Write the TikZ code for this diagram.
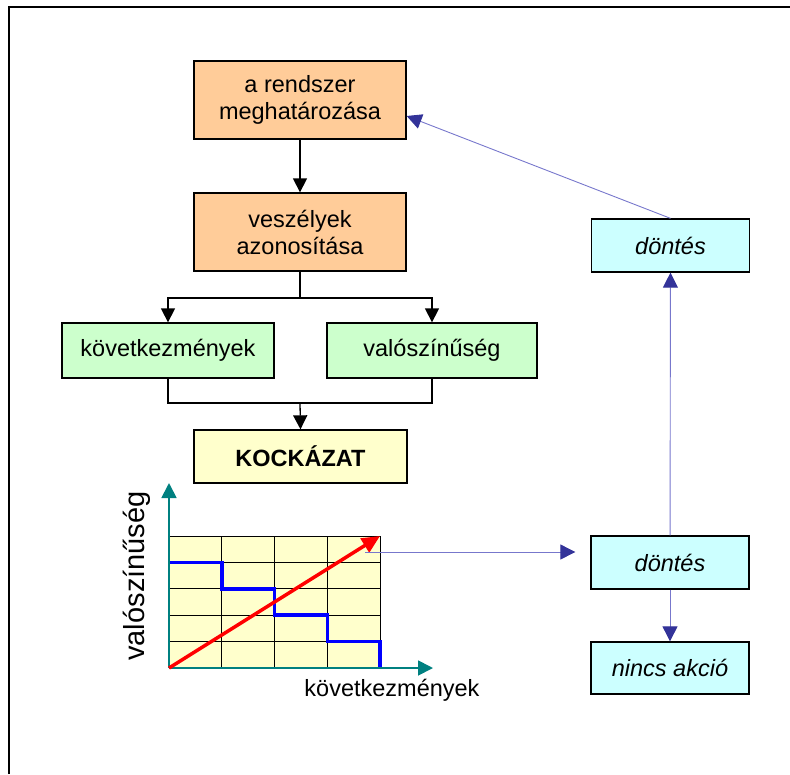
\documentclass[tikz,border=0pt]{standalone}
\usepackage{fontspec}
\setmainfont{Liberation Sans}
\usetikzlibrary{arrows.meta}

\definecolor{orangebox}{HTML}{FFCC99}
\definecolor{greenbox}{HTML}{CCFFCC}
\definecolor{yellowbox}{HTML}{FFFFCC}
\definecolor{cyanbox}{HTML}{CCFFFF}
\definecolor{linkline}{HTML}{7777CC}
\definecolor{linkhead}{HTML}{333399}
\definecolor{axisteal}{HTML}{008080}

\tikzset{
  stepbox/.style={draw=black, line width=1.3pt, align=center, inner sep=0pt,
    font=\fontsize{23.5}{27}\selectfont},
  flow/.style={line width=1.3pt, -{Triangle[length=14pt,width=14pt]}},
  plain/.style={line width=1.3pt},
  link/.style={draw=linkline, line width=0.9pt,
    -{Triangle[length=15pt,width=15pt,color=linkhead]}},
  axis/.style={draw=axisteal, line width=1.8pt,
    -{Triangle[length=15pt,width=15pt,color=axisteal]}},
  lbl/.style={font=\fontsize{23.5}{27}\selectfont, inner sep=0pt}
}

\begin{document}
\begin{tikzpicture}[x=1pt,y=-1pt]
\useasboundingbox (0,0) rectangle (790,774);

% outer frame (left and top edges)
\draw[line width=2pt] (8.5,774) -- (8.5,6.5) -- (790,6.5);

% flowchart boxes
\node[stepbox, fill=orangebox, minimum width=212pt, minimum height=78pt] (sys) at (300,100) {a rendszer\\meghatározása};
\node[stepbox, fill=orangebox, minimum width=212pt, minimum height=78pt] (haz) at (300,232) {veszélyek\\azonosítása};
\node[stepbox, fill=greenbox, minimum width=212pt, minimum height=55pt] (kov) at (168,350.5) {következmények};
\node[stepbox, fill=greenbox, minimum width=210pt, minimum height=55pt] (val) at (432,350.5) {valószínűség};
\node[stepbox, fill=yellowbox, minimum width=213pt, minimum height=53pt, font=\fontsize{23.5}{27}\selectfont\bfseries] (risk) at (300.5,456.5) {KOCKÁZAT};

\node[stepbox, fill=cyanbox, minimum width=158pt, minimum height=53pt, font=\fontsize{23.5}{27}\selectfont\itshape] (d1) at (670.5,245.5) {döntés};
\node[stepbox, fill=cyanbox, minimum width=158pt, minimum height=53pt, font=\fontsize{23.5}{27}\selectfont\itshape] (d2) at (670,562.5) {döntés};
\node[stepbox, fill=cyanbox, minimum width=158pt, minimum height=52pt, font=\fontsize{23.5}{27}\selectfont\itshape] (na) at (670,668) {nincs akció};

% flowchart connectors
\coordinate (split) at (300,298);
\coordinate (merge) at (300,403);
\draw[flow] (sys) -- (haz);
\draw[plain] (haz.south) -- (split);
\draw[flow] (split) -| (kov.north);
\draw[flow] (split) -| (val.north);
\draw[plain] (kov.south) |- (merge);
\draw[plain] (val.south) |- (merge);
\draw[flow] (merge) -- (risk.north);

% risk matrix
\coordinate (origin) at (169,668);
\coordinate (gridtop) at (380,536);
\fill[yellowbox] (origin) rectangle (gridtop);
\foreach \i in {1,2,3,4} {
  \draw[line width=0.8pt] (169+52.75*\i,536) -- (169+52.75*\i,668);
}
\foreach \j in {0,1,2,3,4} {
  \draw[line width=0.8pt] (169,536+26.4*\j) -- (380,536+26.4*\j);
}
\draw[blue, line width=3.5pt, line join=miter]
  (169,562.4) -- (221.75,562.4) -- (221.75,588.8) -- (274.5,588.8) -- (274.5,615.2)
  -- (327.25,615.2) -- (327.25,641.6) -- (380,641.6) -- (380,668);
\draw[axis] (origin) -- (169,483);
\draw[axis] (origin) -- (433,668);
\draw[red, line width=3.5pt, -{Triangle[length=18pt,width=16pt]}] (origin) -- (gridtop);

\node[lbl, rotate=90, font=\fontsize{29}{33}\selectfont] (ylab) at (137,576) {valószínűség};
\node[lbl] (xlab) at (392,690) {következmények};

% decision links
\coordinate (gridout) at (365,552);
\draw[link, shorten >=15pt] (gridout) -- (gridout -| d2.west);
\draw[link] (d2) -- (na);
\draw[link] (d2) -- (d1);
\draw[link] (d1.north) -- ([yshift=-16pt]sys.east);
\end{tikzpicture}
\end{document}
